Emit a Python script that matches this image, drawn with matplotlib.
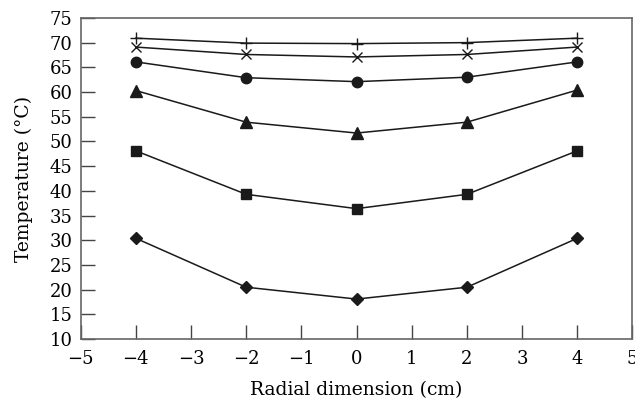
import matplotlib
matplotlib.use("Agg")
import matplotlib.pyplot as plt

# radial positions (cm)
radial = [-4, -2, 0, 2, 4]

# temperature profiles (°C), top to bottom
temp_plus = [70.9, 69.9, 69.8, 70.0, 70.9]
temp_cross = [69.1, 67.6, 67.1, 67.6, 69.1]
temp_circle = [66.1, 62.9, 62.1, 63.0, 66.1]
temp_triangle = [60.3, 53.9, 51.7, 53.9, 60.4]
temp_square = [48.1, 39.3, 36.4, 39.3, 48.1]
temp_diamond = [30.4, 20.5, 18.1, 20.5, 30.4]

plt.rcParams["font.family"] = ["DejaVu Serif"]

fig, ax = plt.subplots(figsize=(6.35, 3.98), dpi=100)
fig.subplots_adjust(left=0.127, right=0.996, top=0.955, bottom=0.148)

c = "#1a1a1a"
ax.plot(radial, temp_plus, color=c, lw=1.1, marker="+", ms=8, mew=1.0)
ax.plot(radial, temp_cross, color=c, lw=1.1, marker="x", ms=7, mew=1.0)
ax.plot(radial, temp_circle, color=c, lw=1.1, marker="o", ms=7.5)
ax.plot(radial, temp_triangle, color=c, lw=1.1, marker="^", ms=8)
ax.plot(radial, temp_square, color=c, lw=1.1, marker="s", ms=6.5)
ax.plot(radial, temp_diamond, color=c, lw=1.1, marker="D", ms=6.5)

ax.set_xlim(-5, 5)
ax.set_ylim(10, 75)
ax.set_xticks(range(-5, 6))
ax.set_yticks(range(10, 80, 5))
ax.set_xticklabels([str(v).replace("-", "\u2212") for v in range(-5, 6)])

ax.tick_params(direction="in", length=10, width=1, color="#444444",
               labelsize=13, pad=6)
ax.tick_params(axis="x", pad=8)
for s in ax.spines.values():
    s.set_color("#666666")
    s.set_linewidth(1.2)

ax.set_xlabel("Radial dimension (cm)", fontsize=13.5, labelpad=9)
ax.set_ylabel("Temperature (\u00b0C)", fontsize=13.5, labelpad=12)

fig.savefig("out.png", dpi=100)
